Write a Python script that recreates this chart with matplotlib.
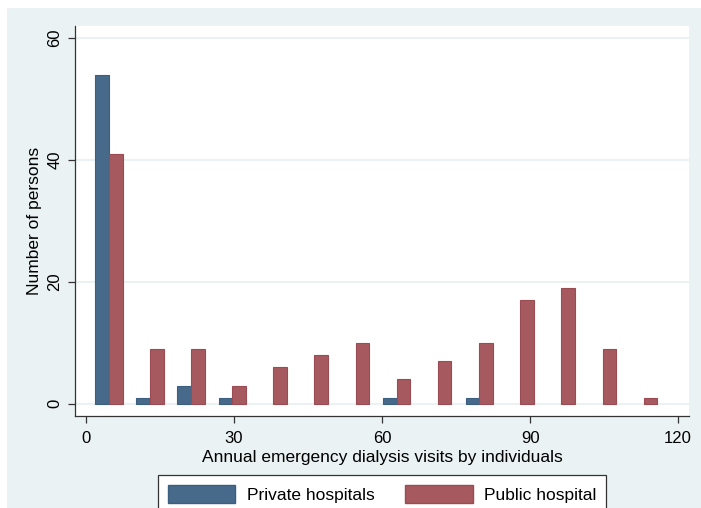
import matplotlib
matplotlib.use("Agg")
import matplotlib.pyplot as plt
from matplotlib.patches import Rectangle, Patch

plt.rcParams['font.family'] = ['Liberation Sans', 'DejaVu Sans']

# bin centres (annual visits) and counts per group
bin_centers = [4.7, 13.0, 21.3, 29.7, 38.0, 46.3, 54.7, 63.0, 71.3, 79.7, 88.0, 96.3, 104.7, 113.0]
private_counts = [54, 1, 3, 1, 0, 0, 0, 1, 0, 1, 0, 0, 0, 0]
public_counts = [41, 9, 9, 3, 6, 8, 10, 4, 7, 10, 17, 19, 9, 1]
x_ticks = [0, 30, 60, 90, 120]
y_ticks = [0, 20, 40, 60]
series_names = ["Private hospitals", "Public hospital"]

navy = "#476a8b"
maroon = "#a65a60"
navy_edge = "#3c5e7f"
maroon_edge = "#9b4b53"
bg = "#eaf2f3"

fig = plt.figure(figsize=(7.01, 5.08), dpi=100)
fig.patches.append(Rectangle((7 / 701, 0), 1, 500 / 508, transform=fig.transFigure,
                             facecolor=bg, edgecolor="none", zorder=-10))

ax = fig.add_axes([75 / 701, 92 / 508, 614 / 701, 390 / 508])
ax.set_facecolor("white")

w = 2.75
ax.bar([c - w / 2 for c in bin_centers], private_counts, width=w, color=navy,
       edgecolor=[navy_edge if v > 0 else "none" for v in private_counts],
       linewidth=0.8, zorder=3)
ax.bar([c + w / 2 for c in bin_centers], public_counts, width=w, color=maroon,
       edgecolor=[maroon_edge if v > 0 else "none" for v in public_counts],
       linewidth=0.8, zorder=3)

ax.set_xlim(-2.2, 122.2)
ax.set_ylim(-2.0, 62.0)
ax.set_xticks(x_ticks)
ax.set_yticks(y_ticks)
ax.set_yticklabels([str(v) for v in y_ticks], rotation=90, va="center")
ax.tick_params(axis="both", labelsize=12, length=5, width=0.9, color="#333333", direction="out")
ax.tick_params(axis="x", pad=6)
ax.tick_params(axis="y", pad=4)

ax.grid(axis="y", color=bg, linewidth=1.5, zorder=0)
for s in ["top", "right"]:
    ax.spines[s].set_visible(False)
for s in ["left", "bottom"]:
    ax.spines[s].set_color("#333333")
    ax.spines[s].set_linewidth(0.9)

ax.set_xlabel("Annual emergency dialysis visits by individuals", fontsize=12.5, labelpad=3)
ax.set_ylabel("Number of persons", fontsize=12.5, labelpad=4)

handles = [Patch(facecolor=navy, edgecolor=navy_edge), Patch(facecolor=maroon, edgecolor=maroon_edge)]
leg = fig.legend(handles, series_names, loc="upper center", ncol=2,
                 bbox_to_anchor=(382 / 701, 33 / 508), borderaxespad=0, fontsize=12.5,
                 handlelength=3.9, handleheight=1.25, handletextpad=0.65,
                 columnspacing=1.75, borderpad=0.55, fancybox=False, framealpha=1)
leg.get_frame().set_edgecolor("#333333")
leg.get_frame().set_linewidth(0.9)

fig.savefig("out.png", dpi=100)
